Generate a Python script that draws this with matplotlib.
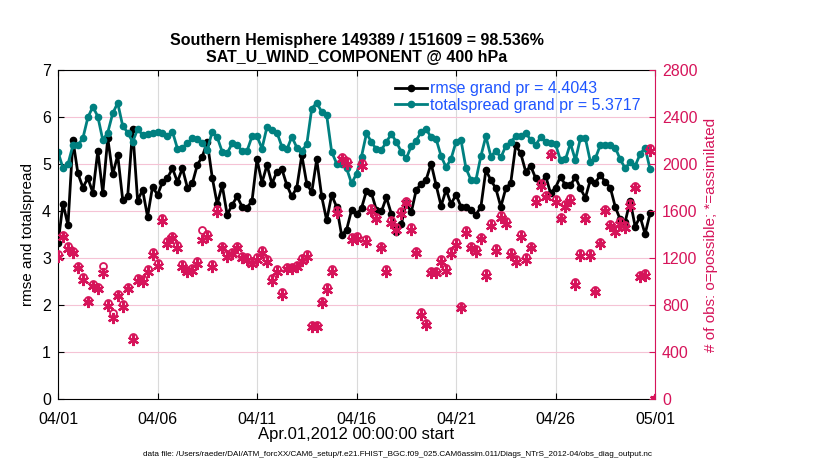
import numpy as np
import pandas as pd
import matplotlib
matplotlib.use('Agg')
import matplotlib.pyplot as plt
import matplotlib.dates as mdates

plt.rcParams['font.family'] = ['Liberation Sans', 'DejaVu Sans']

# 6-hourly bins, 04/01 00Z .. 05/01 00Z
times = pd.date_range('2012-04-01', periods=121, freq='6h')

rmse = [3.31, 4.16, 3.70, 5.51, 4.80, 4.50, 4.70, 4.39, 5.28, 4.38,
        5.55, 4.78, 5.19, 4.24, 4.31, 5.74, 4.22, 4.45, 3.88, 4.52,
        4.34, 4.62, 4.70, 4.91, 4.62, 4.91, 4.50, 4.59, 4.98, 5.16,
        5.47, 4.71, 4.15, 4.55, 3.92, 4.13, 4.31, 4.09, 4.07, 4.22,
        5.10, 4.60, 4.98, 4.58, 4.84, 4.89, 4.55, 4.31, 4.50, 5.19,
        4.58, 4.40, 5.10, 4.31, 3.80, 4.34, 4.09, 3.49, 3.60, 4.02,
        3.93, 4.06, 4.43, 4.38, 4.02, 3.99, 4.29, 3.94, 3.56, 3.72,
        4.18, 3.97, 4.45, 4.58, 4.67, 5.01, 4.55, 4.11, 4.45, 4.15,
        4.35, 4.09, 4.09, 4.02, 3.92, 4.09, 4.87, 4.66, 4.48, 4.09,
        4.48, 4.60, 5.40, 5.23, 4.84, 4.96, 4.70, 4.55, 4.75, 4.38,
        4.50, 4.73, 4.55, 4.55, 4.72, 4.48, 4.28, 4.66, 4.60, 4.77,
        4.62, 4.50, 4.09, 3.82, 3.77, 4.22, 3.67, 3.88, 3.51, 3.95, np.nan]

spread = [5.26, 4.91, 5.00, 5.40, 5.40, 5.55, 5.99, 6.22, 6.01, 5.51,
          5.67, 6.08, 6.30, 5.81, 5.67, 5.47, 5.74, 5.62, 5.64, 5.65,
          5.69, 5.65, 5.59, 5.69, 5.33, 5.35, 5.44, 5.55, 5.53, 5.44,
          5.30, 5.69, 5.57, 5.26, 5.23, 5.44, 5.40, 5.28, 5.28, 5.59,
          5.59, 5.33, 5.79, 5.72, 5.67, 5.37, 5.31, 5.58, 5.35, 5.28,
          5.42, 6.18, 6.30, 6.11, 6.04, 5.26, 5.01, 5.01, 4.91, 4.59,
          4.79, 5.16, 5.65, 5.47, 5.31, 5.30, 5.47, 5.64, 5.47, 5.26,
          5.12, 5.38, 5.50, 5.69, 5.74, 5.57, 5.53, 5.17, 4.93, 5.11,
          5.47, 5.51, 4.91, 4.66, 4.66, 5.17, 5.59, 5.16, 5.28, 5.14,
          5.38, 5.47, 5.59, 5.59, 5.67, 5.51, 5.40, 5.57, 5.47, 5.45,
          5.42, 5.08, 5.10, 5.44, 5.08, 5.55, 5.55, 5.05, 5.12, 5.40,
          5.40, 5.40, 5.35, 5.10, 4.91, 5.04, 4.96, 5.21, 5.35, 4.89, np.nan]

nposs = [1235, 1400, 1300, 1262, 1135, 1035, 845, 980, 957, 1133,
         815, 736, 895, 805, 957, 528, 1028, 1022, 1107, 1250,
         1158, 1538, 1342, 1390, 1312, 1150, 1100, 1115, 1172, 1439,
         1404, 1145, 1617, 1305, 1234, 1254, 1305, 1220, 1206, 1172,
         1206, 1268, 1192, 1028, 1107, 909, 1127, 1127, 1144, 1200,
         1234, 631, 631, 838, 951, 1107, 1608, 2062, 2022, 1376,
         1385, 2005, 1362, 1622, 1552, 1305, 1107, 1523, 1461, 1597,
         1688, 1461, 1263, 739, 648, 1093, 1093, 1192, 1113, 1257,
         1334, 795, 1438, 1305, 1277, 1382, 1070, 1498, 1285, 1563,
         1512, 1249, 1192, 1404, 1206, 1305, 1702, 1835, 1739, 2098,
         1702, 1552, 1659, 1710, 994, 1240, 1552, 1240, 931, 1339,
         1620, 1492, 1444, 1512, 1478, 1668, 1815, 1059, 1070, 2135, 0]

nused = [1212, 1382, 1278, 1241, 1113, 1014, 822, 958, 935, 1076,
         793, 688, 873, 782, 935, 504, 1006, 1000, 1085, 1227,
         1136, 1516, 1320, 1368, 1289, 1127, 1079, 1093, 1150, 1354,
         1382, 1122, 1595, 1283, 1212, 1232, 1283, 1198, 1184, 1150,
         1184, 1246, 1170, 1006, 1085, 887, 1105, 1105, 1122, 1178,
         1212, 609, 609, 816, 929, 1085, 1586, 2040, 2000, 1354,
         1363, 1983, 1340, 1600, 1530, 1283, 1085, 1501, 1439, 1575,
         1666, 1439, 1241, 717, 626, 1071, 1071, 1170, 1091, 1235,
         1312, 773, 1416, 1283, 1255, 1360, 1048, 1476, 1263, 1541,
         1490, 1227, 1170, 1382, 1184, 1283, 1680, 1813, 1717, 2076,
         1680, 1530, 1637, 1688, 972, 1218, 1530, 1218, 909, 1317,
         1598, 1470, 1422, 1490, 1456, 1646, 1793, 1037, 1048, 2113, 0]

rmse_grand = 4.4043
spread_grand = 5.3717

crimson = '#D6145A'
teal = '#008080'

fig = plt.figure(figsize=(8.3, 4.7), dpi=100)
ax = fig.add_axes([0.0699, 0.151, 0.7193, 0.70])
ax2 = ax.twinx()

ax.plot(times, rmse, '-o', color='k', lw=2, ms=4.5, label=f'rmse grand pr = {rmse_grand}')
ax.plot(times, spread, '-o', color=teal, lw=2, ms=4.5, label=f'totalspread grand pr = {spread_grand}')

ax2.plot(times, nposs, 'o', color=crimson, mfc='none', ms=5, mew=1.3, ls='none')
ax2.plot(times, nused, marker=(6, 2, 0), color=crimson, ms=8, mew=1.6, ls='none')

ax.set_ylim(0, 7)
ax.set_yticks(range(0, 8))
ax2.set_ylim(0, 2800)
ax2.set_yticks(range(0, 2801, 400))
ax.set_xlim(times[0], times[-1])
ax.xaxis.set_major_locator(mdates.DayLocator(bymonthday=[1, 6, 11, 16, 21, 26]))
ax.xaxis.set_major_formatter(mdates.DateFormatter('%m/%d'))

ax.grid(axis='y', color='#F5C3D5', lw=0.8)
ax.grid(axis='x', color='#DADADA', lw=0.8)
ax.set_axisbelow(True)

ax.tick_params(direction='in', top=True, right=False, length=4, labelsize=11.5)
ax.tick_params(axis='x', pad=9)
ax.tick_params(axis='y', pad=5)
ax2.tick_params(direction='in', colors=crimson, length=4, labelsize=11.5, pad=5)
ax.spines['right'].set_visible(False)
ax2.spines['left'].set_visible(False)
ax2.spines['top'].set_visible(False)
ax2.spines['bottom'].set_visible(False)
ax2.spines['right'].set_color(crimson)

ax.set_ylabel('rmse and totalspread', fontsize=11, labelpad=5)
ax2.set_ylabel('# of obs: o=possible; *=assimilated', fontsize=11, color=crimson, labelpad=5)
ax.set_xlabel('Apr.01,2012 00:00:00 start', fontsize=12, labelpad=0)

ax.set_title('Southern Hemisphere 149389 / 151609 = 98.536%\nSAT_U_WIND_COMPONENT @ 400 hPa',
             fontsize=11.5, fontweight='bold', pad=6, linespacing=1.15)

handles, labels = ax.get_legend_handles_labels()
leg = ax2.legend(handles, labels, loc='upper right', frameon=False, fontsize=11.5,
                 labelcolor='#1F55FF', handlelength=2.0, handletextpad=0.2,
                 labelspacing=0.1, borderaxespad=0.3, bbox_to_anchor=(0.995, 1.0))

fig.text(397 / 830, 1 - 454 / 470,
         'data file: /Users/raeder/DAI/ATM_forcXX/CAM6_setup/f.e21.FHIST_BGC.f09_025.CAM6assim.011/Diags_NTrS_2012-04/obs_diag_output.nc',
         fontsize=5.85, ha='center', va='center')

fig.savefig('out.png', dpi=100)
